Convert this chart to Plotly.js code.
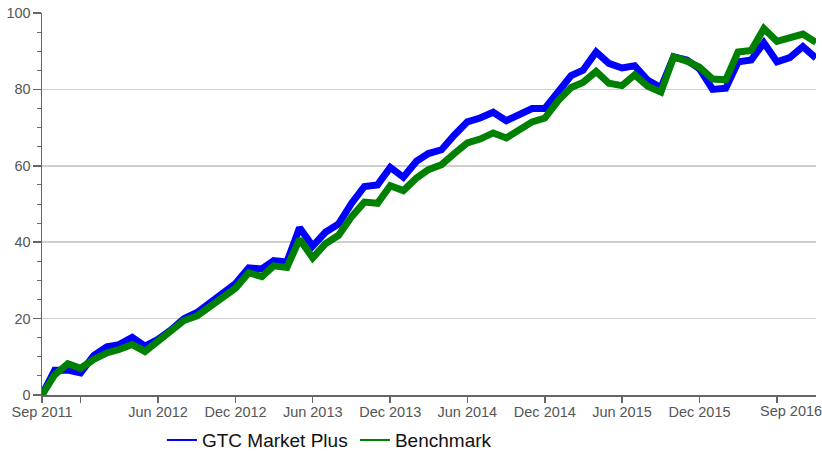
<!DOCTYPE html>
<html>
<head>
<meta charset="utf-8">
<script src="https://cdn.plot.ly/plotly-3.0.1.min.js"></script>
<style>
html,body{margin:0;padding:0;background:#fff;}
#chart{width:822px;height:451px;}
</style>
</head>
<body>
<div id="chart"></div>
<script>
// Monthly dates, Sep 2011 .. Sep 2016
const months = [
 '2011-09','2011-10','2011-11','2011-12','2012-01','2012-02','2012-03','2012-04','2012-05','2012-06','2012-07','2012-08',
 '2012-09','2012-10','2012-11','2012-12','2013-01','2013-02','2013-03','2013-04','2013-05','2013-06','2013-07','2013-08',
 '2013-09','2013-10','2013-11','2013-12','2014-01','2014-02','2014-03','2014-04','2014-05','2014-06','2014-07','2014-08',
 '2014-09','2014-10','2014-11','2014-12','2015-01','2015-02','2015-03','2015-04','2015-05','2015-06','2015-07','2015-08',
 '2015-09','2015-10','2015-11','2015-12','2016-01','2016-02','2016-03','2016-04','2016-05','2016-06','2016-07','2016-08',
 '2016-09'
];

const gtcMarketPlus = [
 0, 6.5, 6.5, 5.8, 10.3, 12.6, 13.2, 15.1, 12.8, 14.6, 17, 20,
 21.6, 24.2, 26.6, 29.2, 33.3, 33, 35.2, 34.8, 43.8, 39, 42.6, 44.8,
 50.2, 54.6, 55, 59.6, 57, 61.2, 63.2, 64.2, 68, 71.5, 72.5, 74,
 71.8, 73.5, 75, 75, 79, 83.6, 85, 89.8, 86.8, 85.6, 86.2, 82.4,
 80.5, 88.5, 87.7, 85.4, 80, 80.3, 87.2, 87.7, 92.2, 87.2, 88.3, 91.2,
 88.2
];

const benchmark = [
 0, 5.3, 8.2, 7, 9.3, 11, 11.9, 13.2, 11.4, 14, 16.5, 19.5,
 20.7, 23, 25.6, 28, 32, 31, 33.8, 33.4, 40.8, 35.9, 39.6, 41.8,
 46.7, 50.5, 50.2, 54.8, 53.5, 56.8, 59, 60.3, 63.2, 66, 67, 68.6,
 67.3, 69.5, 71.5, 72.5, 77, 80.5, 81.8, 84.7, 81.6, 81, 83.8, 80.8,
 79.3, 88.5, 87.4, 85.8, 82.7, 82.5, 89.8, 90.2, 95.9, 92.6, 93.7, 94.5,
 92.3
];

const seriesNames = ['GTC Market Plus', 'Benchmark'];
const seriesColors = ['#0000ff', '#008000'];

const tickDates = ['2011-09','2011-12','2012-06','2012-12','2013-06','2013-12','2014-06','2014-12','2015-06','2015-12','2016-06'];
const tickLabels = ['Sep 2011','','Jun 2012','Dec 2012','Jun 2013','Dec 2013','Jun 2014','Dec 2014','Jun 2015','Dec 2015',''];
const endLabel = 'Sep 2016';

const FONT = '"Liberation Sans", Arial, sans-serif';

const x = months.map(m => m + '-01');
const traces = [
  {x: x, y: gtcMarketPlus, name: seriesNames[0], type: 'scatter', mode: 'lines',
   line: {color: seriesColors[0], width: 7}, showlegend: false},
  {x: x, y: benchmark, name: seriesNames[1], type: 'scatter', mode: 'lines',
   line: {color: seriesColors[1], width: 7}, showlegend: false},
  // legend entries with thin sample lines
  {x: [null], y: [null], name: seriesNames[0], type: 'scatter', mode: 'lines',
   line: {color: seriesColors[0], width: 2}, showlegend: true},
  {x: [null], y: [null], name: seriesNames[1], type: 'scatter', mode: 'lines',
   line: {color: seriesColors[1], width: 2}, showlegend: true}
];

const layout = {
  width: 822, height: 451,
  margin: {l: 42, r: 6, t: 13, b: 56},
  paper_bgcolor: '#fff', plot_bgcolor: '#fff',
  font: {family: FONT, size: 14.5, color: '#555'},
  xaxis: {
    type: 'date',
    range: [x[0], x[x.length - 1]],
    tickvals: tickDates.map(d => d + '-01'),
    ticktext: tickLabels,
    ticks: 'outside', ticklen: 6, tickwidth: 1.5, tickcolor: '#666',
    ticklabelstandoff: -3,
    showline: true, linecolor: '#666', linewidth: 1.5,
    showgrid: false, zeroline: false, automargin: false,
    tickfont: {family: FONT, size: 14.5, color: '#555'}
  },
  yaxis: {
    range: [0, 100],
    dtick: 20, tick0: 0,
    ticks: 'outside', ticklen: 8, tickwidth: 1.5, tickcolor: '#666',
    ticklabelstandoff: -1,
    minor: {dtick: 5, ticks: 'outside', ticklen: 4, tickcolor: '#666', tickwidth: 1, showgrid: false},
    showline: true, linecolor: '#666', linewidth: 1.5,
    showgrid: true, gridcolor: '#cfcfcf', gridwidth: 1.5,
    zeroline: false, automargin: false,
    tickfont: {family: FONT, size: 14.5, color: '#555'}
  },
  showlegend: true,
  legend: {
    orientation: 'h', xref: 'container', yref: 'container',
    x: 0.197, xanchor: 'left', y: 0.024, yanchor: 'middle',
    font: {family: FONT, size: 19, color: '#111'},
    bgcolor: 'rgba(0,0,0,0)', itemwidth: 30, tracegroupgap: 0,
    entrywidth: 148, entrywidthmode: 'pixels'
  },
  annotations: [{
    text: endLabel, xref: 'paper', yref: 'paper', x: 1, y: 0,
    xanchor: 'right', yanchor: 'top', xshift: 8, yshift: -6, showarrow: false,
    font: {family: FONT, size: 14.5, color: '#555'}
  }]
};

Plotly.newPlot('chart', traces, layout, {staticPlot: true, displayModeBar: false});
</script>
</body>
</html>
